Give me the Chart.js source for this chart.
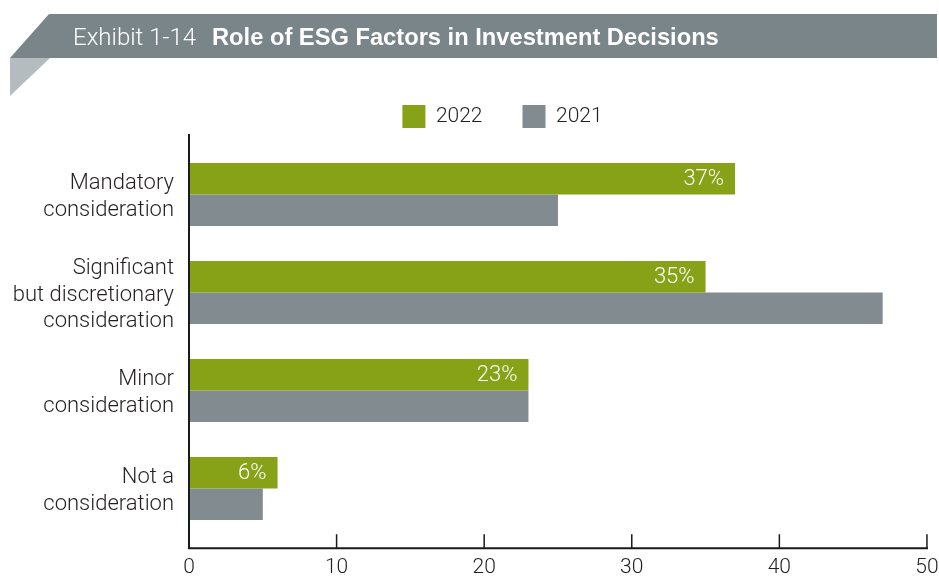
<!DOCTYPE html>
<html>
<head>
<meta charset="utf-8">
<script src="https://cdn.jsdelivr.net/npm/chart.js@4/dist/chart.umd.min.js"></script>
<style>
  html, body { margin: 0; padding: 0; background: #ffffff; }
  canvas { display: block; }
</style>
</head>
<body>
<canvas id="c" width="939" height="578"></canvas>
<script>
// ---- Data ----
const exhibitLabel = 'Exhibit 1-14';
const chartTitle = 'Role of ESG Factors in Investment Decisions';
const categories = [
  ['Mandatory', 'consideration'],
  ['Significant', 'but discretionary', 'consideration'],
  ['Minor', 'consideration'],
  ['Not a', 'consideration']
];
const seriesNames = ['2022', '2021'];
const values2022 = [37, 35, 23, 6];
const values2021 = [25, 47, 23, 5];
const xTicks = [0, 10, 20, 30, 40, 50];

// ---- Styles ----
const LIGHT = 'Roboto, "Liberation Sans", Arial, sans-serif';
const BOLD = '"Liberation Sans", Arial, sans-serif';
const TEXT = '#231f20';
const GREEN = '#87A216';
const GRAY = '#818B90';
const BANNER = '#7A858A';
const FOLD = '#B5BCC0';

const bannerPlugin = {
  id: 'banner',
  beforeDraw(chart) {
    const ctx = chart.ctx;
    ctx.save();
    ctx.fillStyle = '#ffffff';
    ctx.fillRect(0, 0, chart.width, chart.height);
    ctx.fillStyle = FOLD;
    ctx.beginPath();
    ctx.moveTo(10, 58); ctx.lineTo(50, 58); ctx.lineTo(10, 96); ctx.closePath();
    ctx.fill();
    ctx.fillStyle = BANNER;
    ctx.beginPath();
    ctx.moveTo(49, 14); ctx.lineTo(937, 14); ctx.lineTo(937, 58); ctx.lineTo(10, 58); ctx.closePath();
    ctx.fill();
    ctx.fillStyle = '#ffffff';
    ctx.textBaseline = 'alphabetic';
    ctx.textAlign = 'left';
    ctx.font = '300 24px ' + LIGHT;
    ctx.fillText(exhibitLabel, 73, 45);
    const w = ctx.measureText(exhibitLabel).width;
    ctx.font = 'bold 23.7px ' + BOLD;
    ctx.fillText(chartTitle, 73 + w + 16, 45);
    ctx.restore();
  }
};

// shift the centred legend row to sit over the plot like the original
const legendShiftPlugin = {
  id: 'legendShift',
  afterLayout(chart) {
    const lg = chart.legend;
    if (lg) { lg.left += 38; lg.right += 38; }
  }
};

const axesPlugin = {
  id: 'customAxes',
  afterDraw(chart) {
    const ctx = chart.ctx;
    const a = chart.chartArea;
    const xs = chart.scales.x;
    const x0 = xs.getPixelForValue(xTicks[0]);
    const x1 = xs.getPixelForValue(xTicks[xTicks.length - 1]);
    const yb = a.bottom + 10.8;
    ctx.save();
    ctx.strokeStyle = '#1a1a1a';
    ctx.lineWidth = 2;
    ctx.beginPath();
    ctx.moveTo(x0, a.top - 11.5);
    ctx.lineTo(x0, yb);
    ctx.lineTo(x1 + 1, yb);
    ctx.stroke();
    ctx.lineWidth = 1.5;
    ctx.beginPath();
    xTicks.forEach(v => {
      const px = xs.getPixelForValue(v);
      ctx.moveTo(px, yb);
      ctx.lineTo(px, yb - 14);
    });
    ctx.stroke();
    ctx.restore();
  }
};

const valueLabelPlugin = {
  id: 'valueLabels',
  afterDatasetsDraw(chart) {
    const ctx = chart.ctx;
    const meta = chart.getDatasetMeta(0);
    ctx.save();
    ctx.fillStyle = '#ffffff';
    ctx.font = '300 22px ' + LIGHT;
    ctx.textAlign = 'right';
    ctx.textBaseline = 'middle';
    meta.data.forEach((bar, i) => {
      ctx.fillText(values2022[i] + '%', bar.x - 11, bar.y + 1);
    });
    ctx.restore();
  }
};

new Chart(document.getElementById('c'), {
  type: 'bar',
  data: {
    labels: categories,
    datasets: [
      { label: seriesNames[0], data: values2022, backgroundColor: GREEN, barPercentage: 1, categoryPercentage: 0.643 },
      { label: seriesNames[1], data: values2021, backgroundColor: GRAY, barPercentage: 1, categoryPercentage: 0.643 }
    ]
  },
  options: {
    indexAxis: 'y',
    responsive: false,
    animation: false,
    devicePixelRatio: 1,
    layout: { padding: { left: 0, right: 10, top: 65, bottom: 0 } },
    plugins: {
      tooltip: { enabled: false },
      title: { display: false },
      legend: {
        display: true,
        position: 'top',
        align: 'center',
        labels: {
          boxWidth: 23,
          boxHeight: 23,
          padding: 40,
          color: TEXT,
          font: { family: LIGHT, size: 21, weight: '300' }
        }
      },
      subtitle: {
        display: true,
        text: '',
        position: 'top',
        weight: 500,
        font: { size: 1, lineHeight: 1 },
        padding: { top: 0, bottom: 6.5 }
      }
    },
    scales: {
      x: {
        type: 'linear',
        position: 'bottom',
        min: xTicks[0],
        max: xTicks[xTicks.length - 1],
        afterBuildTicks: s => { s.ticks = xTicks.map(v => ({ value: v })); },
        afterFit: s => { s.height = 40.5; },
        grid: { display: false, drawTicks: true, tickLength: 17 },
        border: { display: false },
        ticks: { padding: 0.4, color: TEXT, font: { family: LIGHT, size: 21, weight: '300' }, maxRotation: 0 }
      },
      y: {
        type: 'category',
        afterFit: s => { s.width = 189; },
        grid: { display: false, drawTicks: true, tickLength: 15 },
        border: { display: false },
        ticks: { padding: 0, labelOffset: 2.5, color: TEXT, font: { family: LIGHT, size: 22, weight: '300', lineHeight: 1.19 } }
      }
    }
  },
  plugins: [bannerPlugin, legendShiftPlugin, axesPlugin, valueLabelPlugin]
});
</script>
</body>
</html>
